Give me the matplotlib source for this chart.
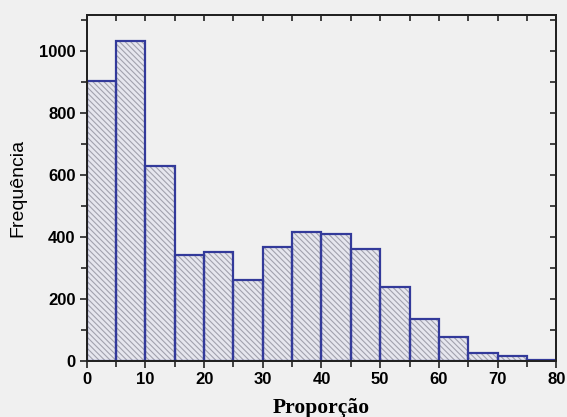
import numpy as np
import matplotlib.pyplot as plt
from matplotlib.ticker import MultipleLocator

# histogram data
bin_edges = [0, 5, 10, 15, 20, 25, 30, 35, 40, 45, 50, 55, 60, 65, 70, 75, 80]
counts = [903, 1032, 628, 342, 352, 261, 369, 416, 409, 361, 239, 135, 77, 26, 16, 5]

bg = '#f0f0f0'
edge_blue = '#333a9a'

plt.rcParams['hatch.linewidth'] = 0.8

fig = plt.figure(figsize=(5.67, 4.17), dpi=100, facecolor=bg)
ax = fig.add_axes([0.153, 0.134, 0.828, 0.830], facecolor=bg)

lefts = np.array(bin_edges[:-1])
widths = np.diff(bin_edges)

# hatched fill first, then the blue outlines on top
ax.bar(lefts, counts, width=widths, align='edge', color='#e6e6ee',
       edgecolor='#a2a2ae', hatch='\\' * 6, linewidth=0)
ax.bar(lefts, counts, width=widths, align='edge', fill=False,
       edgecolor=edge_blue, linewidth=1.6)

ax.set_xlim(0, 80)
ax.set_ylim(0, 1115)

ax.xaxis.set_major_locator(MultipleLocator(10))
ax.xaxis.set_minor_locator(MultipleLocator(5))
ax.yaxis.set_major_locator(MultipleLocator(200))
ax.yaxis.set_minor_locator(MultipleLocator(100))

ax.tick_params(which='both', direction='out', bottom=True, left=True,
               top=False, right=False, width=1.2, color='#222222', pad=3)
ax.tick_params(which='major', length=5)
ax.tick_params(which='minor', length=4)

# inward ticks on top and right like the original
ax_top = ax.twiny()
ax_top.set_xlim(ax.get_xlim())
ax_top.xaxis.set_major_locator(MultipleLocator(5))
ax_top.tick_params(axis='x', direction='in', length=4, width=1.2,
                   color='#222222', top=True, bottom=False, labeltop=False)
ax_right = ax.twinx()
ax_right.set_ylim(ax.get_ylim())
ax_right.yaxis.set_major_locator(MultipleLocator(100))
ax_right.tick_params(axis='y', direction='in', length=4, width=1.2,
                     color='#222222', right=True, left=False, labelright=False)

for a in (ax, ax_top, ax_right):
    for s in a.spines.values():
        s.set_linewidth(1.2)
        s.set_color('#222222')

for lab in ax.get_xticklabels() + ax.get_yticklabels():
    lab.set_fontfamily('Liberation Sans')
    lab.set_fontweight('bold')
    lab.set_fontsize(12)

ax.set_ylabel('Frequência', fontsize=14, family='Liberation Sans', labelpad=9)
ax.set_xlabel('Proporção', fontsize=15.5, family='Liberation Serif',
              fontweight='bold', labelpad=8)

fig.savefig('out.png', dpi=100, facecolor=bg)
